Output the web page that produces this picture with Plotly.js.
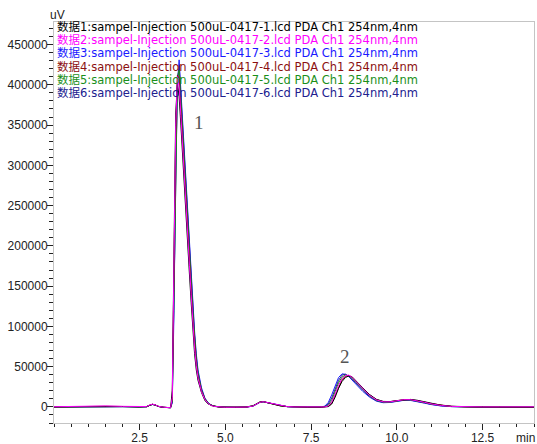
<!DOCTYPE html>
<html>
<head>
<meta charset="utf-8">
<script src="https://cdn.plot.ly/plotly-3.0.1.min.js"></script>
<style>html,body{margin:0;padding:0;background:#fff;}#chart{width:537px;height:444px;}</style>
</head>
<body>
<div id="chart"></div>
<script>
// Retention time grid (min)
const time = [0, 0.5, 1.0, 1.5, 2.0, 2.5, 2.7, 2.8, 2.87, 2.95, 3.05, 3.2, 3.3,
  3.4, 3.45, 3.5, 3.55, 3.6, 3.65, 3.7, 3.75, 3.8, 3.85, 3.9, 3.95, 4.0, 4.05, 4.1, 4.15, 4.2,
  4.3, 4.4, 4.5, 4.6, 4.7, 4.8,
  5.0, 5.3, 5.6, 5.8, 5.9, 6.0, 6.1, 6.2, 6.4, 6.6, 6.8, 7.0, 7.4,
  7.8, 7.9, 8.0, 8.1, 8.2, 8.3, 8.4, 8.5, 8.6, 8.7, 8.8,
  9.0, 9.2, 9.4, 9.6, 9.8, 10.0, 10.2, 10.4, 10.6, 10.8, 11.0,
  11.3, 11.6, 12.0, 12.5, 13.0, 13.5, 14.0];

// Signal (uV) for each injection
const run1 = [0, 300, 600, 700, 400, 0, 300, 2200, 3200, 2400, 600, -500, -1000,
  -1000, 20000, 220000, 365000, 402000, 385000, 350000, 310000, 272000, 236000, 200000, 165000, 130000, 95000, 66000, 46000, 33000,
  18000, 8000, 3500, 1500, 500, 0,
  -500, -400, -200, 1200, 3500, 5800, 6600, 5600, 3200, 1400, 400, 0, -300,
  -300, -200, 300, 3500, 12000, 23000, 31500, 36500, 38500, 37000, 33000,
  24000, 15500, 9500, 6800, 6600, 7800, 9000, 9300, 8200, 6200, 4200,
  2000, 800, 100, -200, -300, -300, -300];
const run2 = [200, 600, 1300, 1200, 700, 200, 400, 2500, 3400, 2600, 700, -400, -900,
  -1000, 12000, 190000, 350000, 410000, 398000, 362000, 322000, 284000, 248000, 212000, 176000, 140000, 104000, 73000, 51000, 36000,
  19000, 9000, 4000, 1500, 500, 0,
  -400, -300, -200, 1000, 3200, 5600, 6500, 5600, 3200, 1400, 400, 0, -200,
  -200, 0, 1200, 6000, 16000, 27000, 35000, 39000, 39500, 36500, 32000,
  23000, 14500, 8800, 6300, 6300, 7600, 8900, 9000, 7800, 5800, 3800,
  1700, 600, 100, 0, 0, 0, 100];
const run3 = [0, 200, 500, 600, 300, 0, 200, 2000, 3000, 2300, 500, -600, -1100,
  -1000, 5000, 120000, 295000, 400000, 431000, 392000, 352000, 314000, 278000, 242000, 206000, 169000, 130000, 94000, 66000, 46000,
  24000, 11000, 5000, 2000, 800, 0,
  -500, -500, -300, 900, 3000, 5400, 6300, 5400, 3000, 1200, 300, -100, -400,
  -100, 1000, 5500, 15000, 27000, 36500, 41000, 40500, 37500, 33500, 28500,
  19500, 12200, 7200, 5200, 5500, 6900, 8100, 8000, 6700, 4700, 2900,
  1100, 300, -200, -400, -500, -500, -500];
const run4 = [0, 400, 800, 800, 500, 100, 300, 2300, 3300, 2500, 600, -500, -1000,
  -1000, 10000, 170000, 340000, 412000, 408000, 370000, 330000, 292000, 256000, 220000, 184000, 147000, 110000, 78000, 54000, 38000,
  20000, 9500, 4000, 1500, 500, 0,
  -400, -400, -200, 1100, 3400, 5800, 6600, 5600, 3200, 1400, 400, 0, -300,
  -300, -100, 700, 4500, 14000, 25000, 33500, 38000, 39000, 37000, 32500,
  23500, 15000, 9200, 6600, 6500, 7700, 9000, 9200, 8000, 6000, 4000,
  1900, 700, 100, -200, -300, -300, -300];
const run5 = [0, 300, 600, 700, 400, 0, 300, 2100, 3100, 2400, 500, -500, -1000,
  -1000, 8000, 150000, 325000, 410000, 418000, 378000, 338000, 300000, 264000, 228000, 192000, 155000, 117000, 84000, 58000, 41000,
  21000, 10000, 4500, 2000, 700, 0,
  -400, -400, -100, 1500, 3800, 6000, 6500, 5400, 3000, 1300, 300, 0, -300,
  -200, 200, 2000, 8000, 19000, 30000, 37000, 39500, 38500, 35500, 31000,
  22000, 14000, 8300, 6000, 6100, 7400, 8700, 8800, 7600, 5600, 3600,
  1600, 500, 0, -200, -300, -300, -300];
const run6 = [0, 200, 500, 600, 300, 0, 200, 2000, 3000, 2300, 500, -600, -1100,
  -1000, 6000, 135000, 310000, 405000, 424000, 385000, 345000, 307000, 271000, 235000, 199000, 162000, 124000, 89000, 62000, 43000,
  22000, 10500, 4500, 2000, 700, 0,
  -500, -500, -300, 1000, 3200, 5600, 6400, 5500, 3100, 1300, 300, -100, -400,
  -200, 500, 3500, 11000, 22500, 33000, 39500, 40500, 38000, 34500, 30000,
  21000, 13200, 7800, 5600, 5800, 7200, 8400, 8400, 7100, 5100, 3200,
  1300, 400, -100, -300, -400, -400, -400];

const runNames = [
  "数据1:sampel-Injection 500uL-0417-1.lcd PDA Ch1 254nm,4nm",
  "数据2:sampel-Injection 500uL-0417-2.lcd PDA Ch1 254nm,4nm",
  "数据3:sampel-Injection 500uL-0417-3.lcd PDA Ch1 254nm,4nm",
  "数据4:sampel-Injection 500uL-0417-4.lcd PDA Ch1 254nm,4nm",
  "数据5:sampel-Injection 500uL-0417-5.lcd PDA Ch1 254nm,4nm",
  "数据6:sampel-Injection 500uL-0417-6.lcd PDA Ch1 254nm,4nm"
];
const runColors = ["#000000", "#ff00ff", "#1a1aff", "#8b1010", "#1a8f1a", "#20208f"];

const xTickVals = [2.5, 5.0, 7.5, 10.0, 12.5];
const xTickText = ["2.5", "5.0", "7.5", "10.0", "12.5"];

const peakLabels = ["1", "2"];
const peakTimes = [4.23, 8.49];
const peakHeights = [353000, 62000];

const series = [run1, run2, run3, run4, run5, run6];
const drawOrder = [2, 5, 4, 3, 0, 1];

const traces = drawOrder.map(i => ({
  type: "scatter", mode: "lines",
  x: time, y: series[i],
  name: runNames[i],
  line: {color: runColors[i], width: 1},
  showlegend: false, hoverinfo: "skip"
}));

const plotTop = 22, plotH = 401;
const annotations = [];
runNames.forEach((t, i) => {
  const cy = 27 + 13.2 * i;
  annotations.push({
    xref: "paper", yref: "paper", x: 0, y: 1 - (cy - plotTop) / plotH,
    xanchor: "left", yanchor: "middle", xshift: 1,
    text: t, showarrow: false,
    font: {family: "DejaVu Sans, Noto Sans CJK SC", size: 11.5, color: runColors[i]}
  });
});
peakLabels.forEach((t, i) => {
  annotations.push({
    xref: "x", yref: "y", x: peakTimes[i], y: peakHeights[i],
    text: t, showarrow: false,
    font: {family: "Liberation Serif, serif", size: 19, color: "#555"}
  });
});
annotations.push({xref: "paper", yref: "paper", x: 0, y: 1, xanchor: "left", yanchor: "bottom",
  xshift: -6, yshift: -2, text: "uV", showarrow: false,
  font: {family: "Liberation Sans, Arial", size: 12, color: "#222"}});
annotations.push({xref: "paper", yref: "paper", x: 1, y: 0, xanchor: "right", yanchor: "top",
  xshift: 3, yshift: -6, text: "min", showarrow: false,
  font: {family: "Liberation Sans, Arial", size: 12, color: "#222"}});

const layout = {
  width: 537, height: 444,
  margin: {l: 54, r: 3, t: plotTop, b: 444 - plotTop - plotH},
  paper_bgcolor: "#fff", plot_bgcolor: "#fff",
  showlegend: false,
  font: {family: "Liberation Sans, Arial", size: 12, color: "#222"},
  xaxis: {
    range: [0, 14], tickvals: xTickVals, ticktext: xTickText,
    ticks: "outside", ticklen: 6, tickcolor: "#222", tickwidth: 1,
    minor: {dtick: 0.5, tick0: 0, ticks: "outside", ticklen: 3, tickcolor: "#222", showgrid: false},
    showgrid: false, zeroline: false,
    showline: true, mirror: true, linecolor: "#c4c4c4", linewidth: 1,
    ticklabelstandoff: -2,
    tickfont: {size: 12, color: "#222"}
  },
  yaxis: {
    range: [-20000, 478000], dtick: 50000, tick0: 0,
    ticks: "outside", ticklen: 6, tickcolor: "#222", tickwidth: 1,
    minor: {dtick: 10000, tick0: 0, ticks: "outside", ticklen: 4, tickcolor: "#222", showgrid: false},
    showgrid: false, zeroline: false,
    showline: true, mirror: true, linecolor: "#c4c4c4", linewidth: 1,
    tickformat: "d", ticklabelstandoff: -3,
    tickfont: {size: 12, color: "#222"}
  },
  annotations: annotations
};

Plotly.newPlot("chart", traces, layout, {staticPlot: true, displayModeBar: false});
</script>
</body>
</html>
